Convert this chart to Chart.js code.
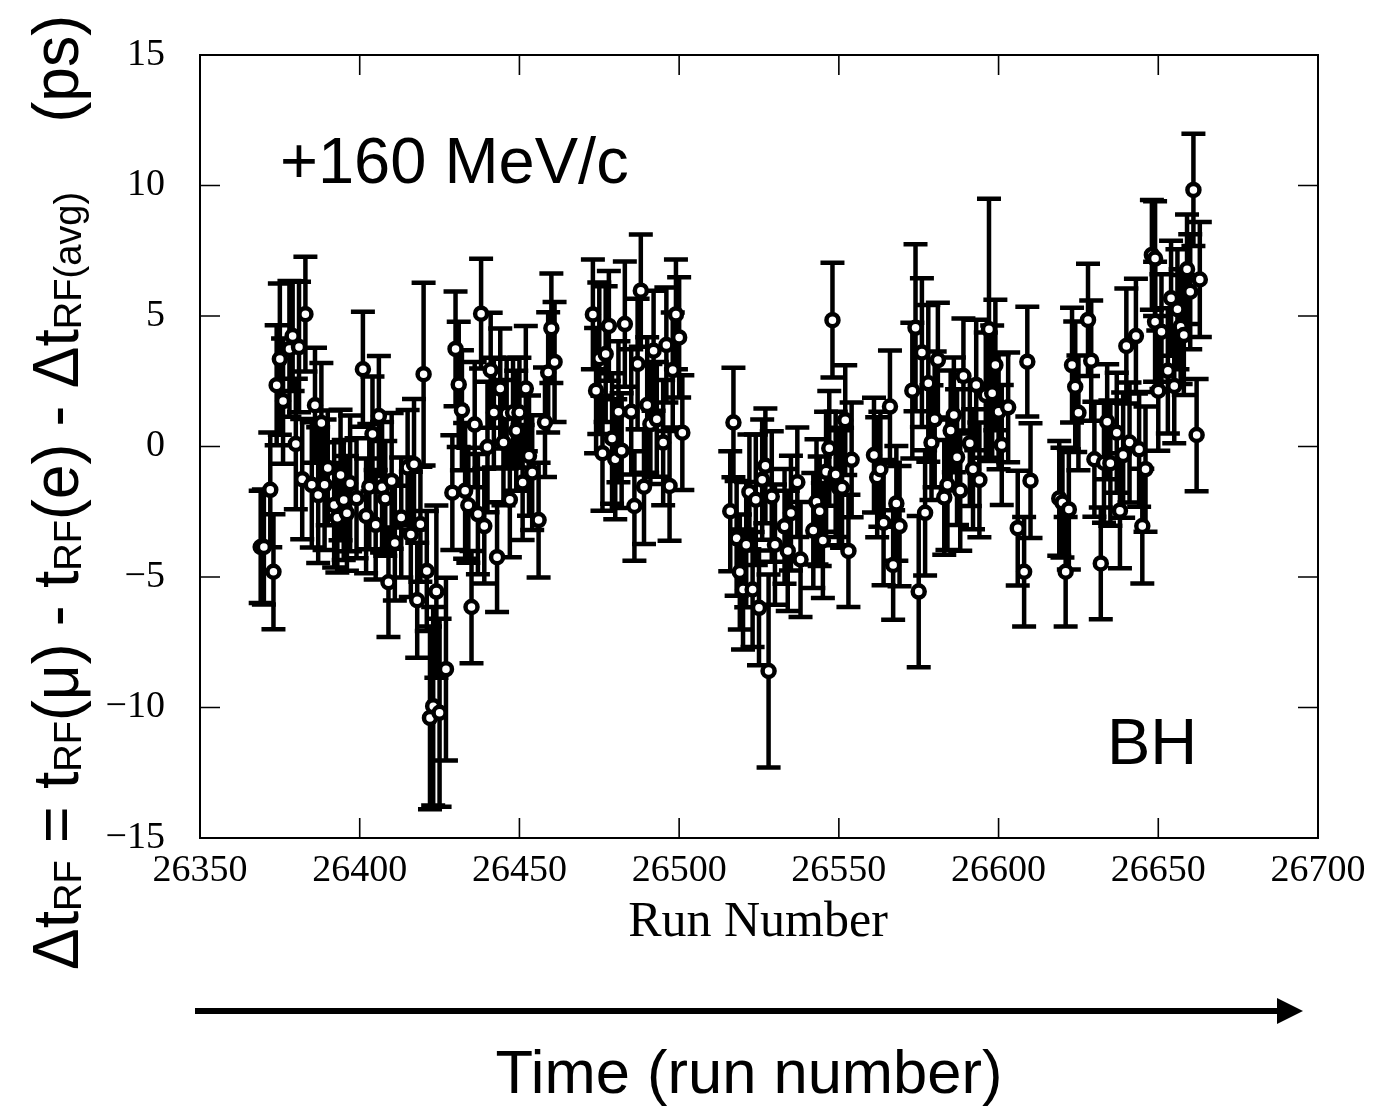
<!DOCTYPE html>
<html>
<head>
<meta charset="utf-8">
<script src="https://cdn.jsdelivr.net/npm/chart.js@4.4.1/dist/chart.umd.min.js"></script>
<style>
  html, body { margin: 0; padding: 0; background: #fff; }
  canvas { display: block; }
</style>
</head>
<body>
<canvas id="chart" width="1373" height="1108"></canvas>
<script>
// ──────────────────────────────────────────────
// Δt_RF per run, +160 MeV/c, BH
// ──────────────────────────────────────────────

const RUN_NUMBERS = [
  26369, 26370, 26372, 26373, 26374, 26375, 26376, 26378, 26379, 26380,
  26381, 26382, 26383, 26385, 26386, 26387, 26388, 26389, 26390, 26392,
  26393, 26394, 26395, 26396, 26397, 26399, 26401, 26402, 26403, 26404,
  26405, 26406, 26407, 26408, 26409, 26410, 26411, 26413, 26415, 26416,
  26417, 26418, 26419, 26420, 26421, 26422, 26423, 26424, 26425, 26427,
  26429, 26430, 26431, 26432, 26433, 26434, 26435, 26436, 26437, 26438,
  26439, 26440, 26441, 26442, 26443, 26444, 26445, 26446, 26447, 26448,
  26449, 26450, 26451, 26452, 26453, 26454, 26456, 26458, 26459, 26460,
  26461,
  26473, 26474, 26475, 26476, 26477, 26478, 26479, 26480, 26481, 26482,
  26483, 26485, 26486, 26487, 26488, 26489, 26490, 26491, 26492, 26493,
  26495, 26496, 26497, 26498, 26499, 26500, 26501,
  26516, 26517, 26518, 26519, 26520, 26521, 26522, 26523, 26524, 26525,
  26526, 26527, 26528, 26529, 26530, 26533, 26534, 26535, 26537, 26538,
  26542, 26543, 26544, 26545, 26546, 26547, 26548, 26549, 26550, 26551,
  26552, 26553, 26554,
  26561, 26562, 26563, 26564, 26566, 26567, 26568, 26569, 26573, 26574,
  26575, 26576, 26577, 26578, 26579, 26580, 26581, 26583, 26584, 26585,
  26586, 26587, 26588, 26589, 26591, 26592, 26593, 26594, 26596, 26597,
  26598, 26599, 26600, 26601, 26603, 26606, 26608, 26609, 26610,
  26619, 26620, 26621, 26622, 26623, 26624, 26625, 26628, 26629, 26630,
  26632, 26633, 26634, 26635, 26637, 26638, 26639, 26640, 26641, 26643,
  26644, 26645, 26646, 26648, 26649, 26649, 26650, 26651, 26653, 26654,
  26655, 26656, 26657, 26658, 26659, 26660, 26661, 26662, 26663,
];

// Δt_RF (ps)
const DT_VALUES = [
  -3.85, -3.85, -1.66, -4.8, 2.35, 3.35, 1.74, 3.74, 4.23, 0.1,
  3.81, -1.25, 5.07, -1.47, 1.58, -1.86, 0.9, -1.47, -0.82, -2.24,
  -2.73, -1.09, -2.05, -2.56, -1.41, -1.98, 2.96, -2.66, -1.54, 0.48,
  -3.0, 1.17, -1.56, -1.99, -5.2, -1.32, -3.7, -2.72, -0.8, -3.37,
  -0.68, -5.89, -2.98, 2.77, -4.77, -10.4, -9.95, -5.56, -10.2, -8.53,
  -1.77, 3.74, 2.38, 1.39, -1.7, -2.25, -6.15, 0.84, -2.59, 5.09,
  -3.05, -0.02, 2.92, 1.3, -4.24, 2.22, 0.15, 1.26, -2.04, 1.3,
  0.6, 1.3, -1.38, 2.22, -0.35, -1.0, -2.82, 0.93, 2.84, 4.53,
  3.24,
  5.06, 2.14, 3.38, -0.26, 3.54, 4.62, 0.31, -0.49, 1.33, -0.16,
  4.69, 1.33, -2.28, 3.16, 5.97, -1.54, 1.59, 0.86, 3.67, 1.04,
  0.15, 3.89, -1.51, 2.93, 5.06, 4.18, 0.53,
  -2.48, 0.92, -3.52, -4.81, -5.48, -3.76, -1.74, -5.48, -2.04, -6.18,
  -1.27, -0.74, -8.6, -1.92, -3.76, -3.06, -4.0, -2.55, -1.37, -4.33,
  -3.22, -2.12, -2.48, -3.6, -0.97, -0.07, 4.84, -1.07, -1.58, -1.58,
  1.01, -4.0, -0.51,
  -0.33, -1.18, -0.87, -2.92, 1.53, -4.54, -2.18, -3.05, 2.14, 4.55,
  -5.56, 3.6, -2.54, 2.42, 0.15, 1.04, 3.31, -1.95, -1.47, 0.61,
  1.21, -0.41, -1.69, 2.7, 0.12, -0.87, 2.36, -1.28, 1.97, 4.49,
  2.04, 3.12, 1.33, 0.06, 1.5, -3.13, -4.8, 3.25, -1.31,
  -1.99, -2.15, -4.8, -2.41, 3.12, 2.29, 1.29, 4.85, 3.29, -0.49,
  -4.48, -0.62, 0.95, -0.64, 0.53, -2.46, -0.33, 3.85, 0.15, 4.23,
  -0.11, -3.05, -0.87, 7.34, 7.2, 4.78, 2.14, 4.4, 2.9, 5.68,
  2.32, 5.26, 4.59, 4.27, 6.79, 5.93, 9.83, 0.44, 6.4,
];

// symmetric error (ps)
const DT_ERRORS = [
  2.15, 2.2, 2.2, 2.2, 2.3, 2.9, 2.4, 2.6, 2.1, 2.5,
  2.5, 2.3, 2.2, 2.4, 2.2, 2.6, 2.3, 2.5, 2.2, 2.4,
  2.1, 2.5, 2.3, 2.2, 2.6, 2.3, 2.2, 2.2, 2.4, 2.2,
  2.1, 2.3, 2.5, 2.2, 2.1, 2.6, 2.2, 2.3, 2.2, 2.4,
  2.5, 2.2, 2.2, 3.5, 2.3, 3.5, 3.8, 3.3, 3.6, 3.5,
  2.2, 2.2, 2.4, 2.3, 2.6, 2.2, 2.15, 2.4, 2.3, 2.1,
  2.2, 2.5, 2.2, 2.1, 2.1, 2.3, 2.4, 2.1, 2.2, 2.1,
  2.3, 2.1, 2.2, 2.4, 2.3, 2.2, 2.2, 2.1, 2.3, 2.1,
  2.3,
  2.1, 2.4, 2.9, 2.2, 2.6, 2.1, 2.5, 2.3, 2.7, 2.2,
  2.4, 2.4, 2.1, 2.5, 2.15, 2.2, 2.6, 2.3, 2.3, 2.2,
  2.4, 2.2, 2.1, 2.2, 2.1, 2.3, 2.2,
  2.3, 2.1, 2.2, 2.2, 2.3, 2.4, 2.2, 2.2, 2.5, 2.2,
  2.3, 2.2, 3.7, 2.5, 2.3, 2.2, 2.3, 2.2, 2.1, 2.2,
  2.2, 2.4, 2.1, 2.2, 2.3, 2.2, 2.2, 2.4, 2.2, 2.3,
  2.1, 2.15, 2.2,
  2.2, 2.3, 2.2, 2.4, 2.15, 2.1, 2.2, 2.3, 2.6, 3.2,
  2.9, 2.85, 2.4, 3.0, 2.2, 2.6, 2.2, 2.2, 2.5, 2.3,
  2.2, 2.6, 2.3, 2.2, 2.4, 2.3, 2.5, 2.2, 2.4, 5.0,
  2.6, 2.5, 2.2, 2.3, 2.1, 2.2, 2.1, 2.1, 2.2,
  2.2, 2.1, 2.1, 2.3, 2.2, 2.5, 2.2, 2.15, 2.3, 2.2,
  2.14, 2.3, 2.2, 2.4, 2.3, 2.2, 2.4, 2.2, 2.3, 2.2,
  2.2, 2.2, 2.4, 2.1, 2.2, 2.3, 2.3, 2.2, 2.4, 2.2,
  2.2, 2.3, 2.2, 2.3, 2.1, 2.2, 2.15, 2.15, 2.2,
];

const X_TICKS = [26350, 26400, 26450, 26500, 26550, 26600, 26650, 26700];
const Y_TICKS = [-15, -10, -5, 0, 5, 10, 15];

const SANS = "'Liberation Sans', Arial, Helvetica, sans-serif";
const SERIF = "'Liberation Serif', 'Times New Roman', serif";

/** Vertical error bars with caps, drawn under the markers. */
const errorBarPlugin = {
  id: 'errorBars',
  beforeDatasetsDraw(chart) {
    const { ctx, scales: { x, y } } = chart;
    ctx.save();
    ctx.strokeStyle = '#000';
    ctx.lineWidth = 4.5;
    ctx.lineCap = 'butt';
    RUN_NUMBERS.forEach((run, i) => {
      const px = x.getPixelForValue(run);
      const lo = y.getPixelForValue(DT_VALUES[i] - DT_ERRORS[i]);
      const hi = y.getPixelForValue(DT_VALUES[i] + DT_ERRORS[i]);
      ctx.beginPath();
      ctx.moveTo(px, lo);
      ctx.lineTo(px, hi);
      ctx.moveTo(px - 12, lo);
      ctx.lineTo(px + 12, lo);
      ctx.moveTo(px - 12, hi);
      ctx.lineTo(px + 12, hi);
      ctx.stroke();
    });
    ctx.restore();
  },
};

/** Frame with inward ticks on all four sides. */
const framePlugin = {
  id: 'frame',
  afterDraw(chart) {
    const { ctx, chartArea: a, scales: { x, y } } = chart;
    ctx.save();
    ctx.strokeStyle = '#000';
    ctx.lineWidth = 2;
    ctx.strokeRect(a.left, a.top, a.right - a.left, a.bottom - a.top);
    ctx.lineWidth = 1.6;
    ctx.beginPath();
    for (const v of X_TICKS) {
      const px = x.getPixelForValue(v);
      ctx.moveTo(px, a.bottom); ctx.lineTo(px, a.bottom - 20);
      ctx.moveTo(px, a.top);    ctx.lineTo(px, a.top + 20);
    }
    for (const v of Y_TICKS) {
      const py = y.getPixelForValue(v);
      ctx.moveTo(a.left, py);  ctx.lineTo(a.left + 20, py);
      ctx.moveTo(a.right, py); ctx.lineTo(a.right - 20, py);
    }
    ctx.stroke();
    ctx.restore();
  },
};

/** Text pieces: y-axis formula, x-axis title, annotations, time arrow. */
const labelPlugin = {
  id: 'labels',
  afterDraw(chart) {
    const { ctx } = chart;
    ctx.save();
    ctx.fillStyle = '#000';
    ctx.strokeStyle = '#000';

    // y title, rotated, with subscripts
    const parts = [
      ['Δt', false], ['RF', true], [' = t', false], ['RF', true],
      ['(μ) - t', false], ['RF', true], ['(e) - Δt', false],
      ['RF(avg)', true], ['    (ps)', false],
    ];
    const big = `64px ${SANS}`, small = `39px ${SANS}`;
    let total = 0;
    for (const [t, sub] of parts) {
      ctx.font = sub ? small : big;
      total += ctx.measureText(t).width;
    }
    ctx.save();
    ctx.translate(78, 970);
    ctx.rotate(-Math.PI / 2);
    ctx.scale(955 / total, 1);
    ctx.textBaseline = 'alphabetic';
    ctx.textAlign = 'left';
    let cx = 0;
    for (const [t, sub] of parts) {
      ctx.font = sub ? small : big;
      ctx.fillText(t, cx, sub ? 3 : 0);
      cx += ctx.measureText(t).width;
    }
    ctx.restore();

    // x title
    ctx.font = `50px ${SERIF}`;
    ctx.textAlign = 'center';
    ctx.textBaseline = 'alphabetic';
    ctx.fillText('Run Number', 758, 936);

    // annotations
    ctx.font = `65px ${SANS}`;
    ctx.textAlign = 'left';
    ctx.fillText('+160 MeV/c', 280, 183);
    ctx.fillText('BH', 1107, 764);

    // time arrow
    ctx.lineWidth = 6;
    ctx.beginPath();
    ctx.moveTo(195, 1011);
    ctx.lineTo(1280, 1011);
    ctx.stroke();
    ctx.beginPath();
    ctx.moveTo(1303, 1011);
    ctx.lineTo(1277, 998);
    ctx.lineTo(1277, 1024);
    ctx.closePath();
    ctx.fill();

    ctx.font = `61.5px ${SANS}`;
    ctx.textAlign = 'center';
    ctx.fillText('Time (run number)', 749, 1093);
    ctx.restore();
  },
};

const points = RUN_NUMBERS.map((run, i) => ({ x: run, y: DT_VALUES[i] }));

new Chart(document.getElementById('chart'), {
  type: 'scatter',
  data: {
    datasets: [{
      data: points,
      pointRadius: 6,
      pointHoverRadius: 6,
      pointBorderWidth: 4.5,
      pointBackgroundColor: '#fff',
      pointBorderColor: '#000',
    }],
  },
  options: {
    responsive: false,
    animation: false,
    devicePixelRatio: 1,
    layout: { padding: { top: 55, right: 55, bottom: 0, left: 0 } },
    plugins: {
      legend: { display: false },
      tooltip: { enabled: false },
    },
    scales: {
      x: {
        type: 'linear',
        position: 'bottom',
        min: 26350,
        max: 26700,
        afterFit: s => { s.height = 270; s.paddingLeft = 0; s.paddingRight = 0; },
        afterBuildTicks: s => { s.ticks = X_TICKS.map(v => ({ value: v })); },
        grid: { display: false },
        border: { display: false },
        ticks: {
          color: '#000',
          font: { family: SERIF, size: 38 },
          padding: 2,
          maxRotation: 0,
          autoSkip: false,
          callback: v => String(v),
        },
      },
      y: {
        type: 'linear',
        min: -15,
        max: 15,
        afterFit: s => { s.width = 200; },
        afterBuildTicks: s => { s.ticks = Y_TICKS.map(v => ({ value: v })); },
        grid: { display: false },
        border: { display: false },
        ticks: {
          color: '#000',
          font: { family: SERIF, size: 38 },
          padding: 27,
          callback: v => (v < 0 ? '\u2212' + Math.abs(v) : String(v)),
        },
      },
    },
  },
  plugins: [errorBarPlugin, framePlugin, labelPlugin],
});
</script>
</body>
</html>
